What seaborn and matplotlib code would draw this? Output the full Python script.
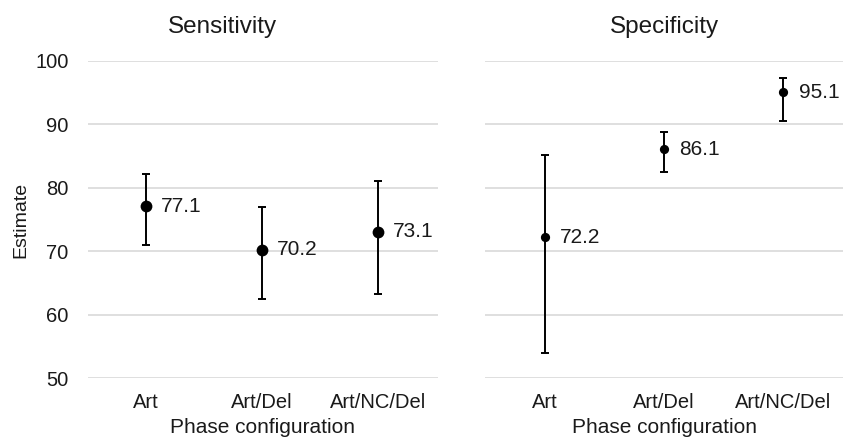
import matplotlib
matplotlib.use("Agg")
import matplotlib.pyplot as plt
import seaborn as sns

# values
phases = ["Art", "Art/Del", "Art/NC/Del"]

sens_est = [77.1, 70.2, 73.1]
sens_low = [71.0, 62.4, 63.2]
sens_high = [82.1, 77.0, 81.1]

spec_est = [72.2, 86.1, 95.1]
spec_low = [53.9, 82.5, 90.5]
spec_high = [85.1, 88.8, 97.3]

sns.set_theme(style="white")
plt.rcParams["font.family"] = ["Liberation Sans", "DejaVu Sans"]

W, H = 843, 442
fig = plt.figure(figsize=(W / 100, H / 100), dpi=100)

ax1 = fig.add_axes([88 / W, (H - 378) / H, (438 - 88) / W, (378 - 61) / H])
ax2 = fig.add_axes([485 / W, (H - 378) / H, (843 - 485) / W, (378 - 61) / H])

TXT = "#1a1a1a"


def draw_panel(ax, est, low, high, title, msize, title_x):
    xs = list(range(len(phases)))
    yerr = [[e - l for e, l in zip(est, low)], [h - e for e, h in zip(est, high)]]
    ax.errorbar(xs, est, yerr=yerr, fmt="none", ecolor="black", elinewidth=1.4,
                capsize=3, capthick=1.4, zorder=3)
    sns.scatterplot(x=xs, y=est, ax=ax, color="black", s=msize, edgecolor="black",
                    linewidth=0, zorder=4)
    for x, e in zip(xs, est):
        ax.annotate(f"{e:.1f}", (x, e), xytext=(11, 0), textcoords="offset points",
                    va="center", ha="left", fontsize=15, color=TXT)
    ax.set_ylim(50, 100)
    ax.set_xlim(-0.5, 2.5)
    ax.set_yticks([50, 60, 70, 80, 90, 100])
    ax.set_xticks(xs)
    ax.set_xticklabels(phases)
    ax.yaxis.grid(True, color="#d9d9d9", linewidth=1.2)
    ax.set_axisbelow(True)
    for s in ax.spines.values():
        s.set_visible(False)
    ax.tick_params(axis="both", length=0, labelsize=14.5, colors=TXT)
    ax.tick_params(axis="x", pad=11)
    ax.set_xlabel("Phase configuration", fontsize=15, color=TXT, labelpad=4)
    ax.set_title(title, fontsize=17.5, color=TXT, x=title_x, pad=20)


draw_panel(ax1, sens_est, sens_low, sens_high, "Sensitivity", 72, 0.383)
draw_panel(ax2, spec_est, spec_low, spec_high, "Specificity", 44, 0.5)

ax1.set_xlim(-0.5, 2.52)
ax1.set_ylabel("Estimate", fontsize=14, color=TXT, labelpad=4)
ax1.tick_params(axis="y", pad=14)
ax2.set_yticklabels([])

fig.savefig("out.png", dpi=100)
